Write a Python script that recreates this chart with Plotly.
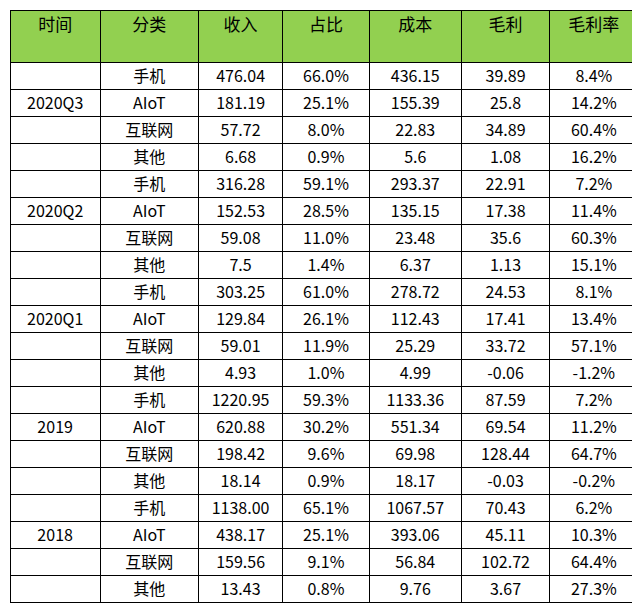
import plotly.graph_objects as go

header = ["时间", "分类", "收入", "占比", "成本", "毛利", "毛利率"]
periods = ["2020Q3", "2020Q2", "2020Q1", "2019", "2018"]
categories = ["手机", "AIoT", "互联网", "其他"]

revenue = ["476.04", "181.19", "57.72", "6.68",
           "316.28", "152.53", "59.08", "7.5",
           "303.25", "129.84", "59.01", "4.93",
           "1220.95", "620.88", "198.42", "18.14",
           "1138.00", "438.17", "159.56", "13.43"]
share = ["66.0%", "25.1%", "8.0%", "0.9%",
         "59.1%", "28.5%", "11.0%", "1.4%",
         "61.0%", "26.1%", "11.9%", "1.0%",
         "59.3%", "30.2%", "9.6%", "0.9%",
         "65.1%", "25.1%", "9.1%", "0.8%"]
cost = ["436.15", "155.39", "22.83", "5.6",
        "293.37", "135.15", "23.48", "6.37",
        "278.72", "112.43", "25.29", "4.99",
        "1133.36", "551.34", "69.98", "18.17",
        "1067.57", "393.06", "56.84", "9.76"]
profit = ["39.89", "25.8", "34.89", "1.08",
          "22.91", "17.38", "35.6", "1.13",
          "24.53", "17.41", "33.72", "-0.06",
          "87.59", "69.54", "128.44", "-0.03",
          "70.43", "45.11", "102.72", "3.67"]
margin = ["8.4%", "14.2%", "60.4%", "16.2%",
          "7.2%", "11.4%", "60.3%", "15.1%",
          "8.1%", "13.4%", "57.1%", "-1.2%",
          "7.2%", "11.2%", "64.7%", "-0.2%",
          "6.2%", "10.3%", "64.4%", "27.3%"]

# period label sits in the second row of each block
time_col = []
for p in periods:
    time_col += ["", p, "", ""]
cat_col = categories * len(periods)

fig = go.Figure(go.Table(
    domain=dict(x=[0, 0.985], y=[0, 1]),
    columnwidth=[92, 100, 86, 88, 94, 90, 90],
    header=dict(values=header, fill_color="#92D050", line_color="black",
                align="center", height=52,
                font=dict(family="Noto Sans CJK SC", size=17, color="black")),
    cells=dict(values=[time_col, cat_col, revenue, share, cost, profit, margin],
               fill_color="white", line_color="black", align="center", height=27,
               font=dict(family="Noto Sans CJK SC", size=16, color="black")),
))
fig.update_layout(width=640, height=609, margin=dict(l=2, r=0, t=2, b=0))
fig.write_html("out.html")
